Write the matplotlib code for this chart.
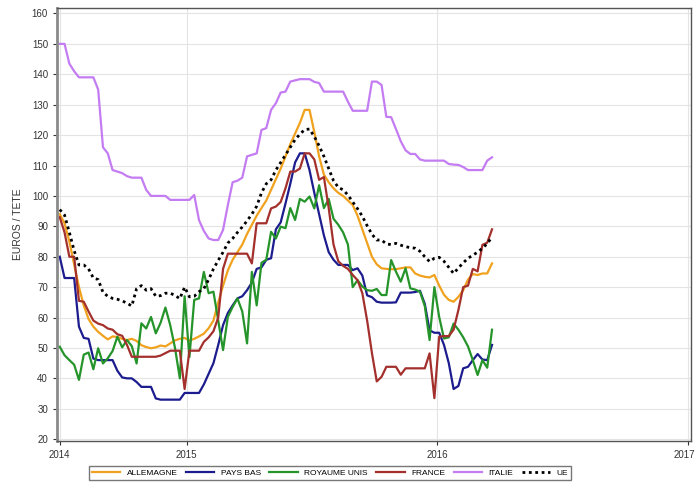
import matplotlib
matplotlib.use("Agg")
import matplotlib.pyplot as plt
import matplotlib.transforms as mtransforms
import pandas as pd

plt.rcParams["font.family"] = ["Liberation Sans", "DejaVu Sans"]

# weekly piglet prices, EUR per head
weeks = pd.date_range("2014-06-30", periods=91, freq="7D")

allemagne = [94, 91, 85, 77.5, 70, 64, 59.5, 57, 55.3, 54,
             52.8, 53.8, 53.6, 53, 52.6, 53, 52.3, 50.9, 50.3, 49.9,
             50.2, 50.8, 50.5, 51.5, 52.5, 53, 53.3, 52.4, 53, 53.8,
             54.7, 56.5, 59, 65, 70.5, 75.5, 79, 81.5, 84, 87.5,
             90.5, 93.5, 96, 98.5, 102, 105.5, 109, 113, 117, 120.5,
             124, 128.3, 128.3, 121, 113, 107, 104.5, 102.5, 101, 100,
             98.5, 97, 93.5, 89, 84.5, 80, 77.5, 76.2, 76, 75.9,
             75.9, 76.2, 76.5, 76.5, 74.5, 73.8, 73.4, 73.2, 74, 70.5,
             67.5, 65.8, 65.2, 66.8, 69, 72.5, 74.3, 74, 74.5, 74.5,
             77.8]

pays_bas = [80, 73, 73, 73, 57, 53.3, 53, 46.5, 46, 46,
            46, 46, 42.5, 40.3, 40, 40, 38.8, 37.2, 37.2, 37.2,
            33.4, 33, 33, 33, 33, 33, 35.2, 35.2, 35.2, 35.2,
            38, 41.5, 45, 51, 57.5, 61.5, 64, 66.3, 67, 69,
            71.5, 76, 76.5, 79, 79.5, 89, 91.3, 97.5, 104, 111,
            114, 114, 108.5, 101, 94, 87, 81.5, 79, 77.3, 77.3,
            77.3, 75.6, 76.2, 73.8, 67.3, 66.7, 65.2, 64.9, 64.9, 64.9,
            65, 68.2, 68.2, 68.2, 68.4, 68.8, 64.5, 55.8, 55, 55,
            51, 45, 36.5, 37.5, 43.3, 43.8, 46, 48, 46.2, 46,
            51]

royaume_unis = [50.4, 47.6, 46, 44.5, 39.5, 47.8, 48.5, 43, 49.9, 44.9,
                46.6, 49, 53.7, 50.2, 52.6, 50.6, 44.9, 58.1, 56.4, 60.2,
                54.8, 58.3, 63.3, 57.5, 50, 40, 67, 47, 65.8, 66.3,
                75, 68, 68.5, 59, 49.3, 60.2, 63.5, 66.3, 62, 51.5,
                75, 64, 78, 79, 88.2, 86, 89.9, 89.4, 96, 92.1,
                99, 98.1, 99.8, 95.9, 103.5, 96, 99, 92.5, 90.5, 88,
                84, 70, 72.3, 70.2, 69, 68.8, 69.4, 67.4, 67.4, 78.9,
                75.1, 71.8, 76.2, 69.6, 69.2, 68.5, 63.8, 52.6, 70, 60.2,
                53.1, 53.5, 58, 56, 53.5, 50.5, 46, 41.1, 46, 43.5,
                56]

france = [93, 88, 80, 80, 65.5, 65.2, 62, 59, 58, 57.5,
          56.4, 56, 54.5, 54, 51, 47.1, 47.1, 47.1, 47.1, 47.1,
          47.1, 47.5, 48.3, 49.1, 49.1, 49.1, 36.5, 49.1, 49.1, 49.1,
          52, 53.5, 55.5, 60, 76, 81, 81, 81, 81, 81,
          77.8, 91, 91, 91, 95.9, 96.5, 98, 102.5, 108, 108,
          109, 114, 114, 112, 105.3, 106.2, 96, 84, 78.5, 77,
          76, 74, 72.3, 68, 59, 48.3, 39, 40.5, 43.8, 43.8,
          43.8, 41.2, 43.3, 43.3, 43.3, 43.3, 43.3, 48.2, 33.5, 53.7,
          53.9, 53.9, 56, 62.5, 70, 70.5, 76, 75.2, 83.9, 84.6,
          89]

italie = [150, 150, 143.5, 141, 139, 139, 139, 139, 135, 116,
          114, 108.5, 108, 107.5, 106.5, 106, 106, 106, 102, 100,
          100, 100, 100, 98.7, 98.7, 98.7, 98.7, 98.7, 100.3, 92,
          88.5, 86, 85.5, 85.5, 88.8, 97, 104.5, 105, 106, 113,
          113.5, 114, 121.7, 122.3, 128.3, 130.5, 134, 134.3, 137.6, 138,
          138.4, 138.4, 138.4, 137.5, 137.1, 134.3, 134.3, 134.3, 134.3, 134.3,
          131, 128, 128, 128, 128, 137.6, 137.6, 136.5, 126, 125.9,
          122, 118, 115, 113.8, 113.8, 112, 111.6, 111.6, 111.6, 111.6,
          111.6, 110.5, 110.3, 110.2, 109.5, 108.5, 108.5, 108.5, 108.5, 111.6,
          112.7]

ue = [95.5, 93.7, 88, 82, 77.3, 77.3, 76, 73, 72.5, 68.3,
      67, 66.3, 66, 65.5, 64.7, 63.8, 69.5, 70.5, 69, 69.5,
      67, 67.2, 68, 68, 67.3, 66.2, 70, 66.8, 67, 68.5,
      69.5, 72.5, 76, 78.8, 81.5, 84.5, 86, 88, 89.8, 91.8,
      94, 96.6, 101, 104, 105.3, 108.5, 111, 113.5, 116, 118.5,
      120.3, 121.8, 122, 119.5, 116.5, 113, 109, 105, 102.8, 102,
      100.3, 98, 95.8, 93.3, 90.2, 87.4, 85.5, 85.5, 84.2, 84,
      84.4, 83.8, 83.3, 83, 82.8, 81.8, 80, 78.4, 79.5, 79.8,
      78.5, 76.5, 74.5, 76.3, 78, 79.5, 80.5, 81.5, 82.8, 84.3,
      86.5]

year_ticks = pd.to_datetime(["2014-06-30", "2015-01-01", "2016-01-01", "2017-01-01"])
year_labels = ["2014", "2015", "2016", "2017"]

fig = plt.figure(figsize=(6.97, 4.86), dpi=100)
ax = fig.add_axes([57 / 697, 45 / 486, 634 / 697, 433 / 486])

ax.plot(weeks, allemagne, color="#f0a21e", lw=1.6, label="ALLEMAGNE")
ax.plot(weeks, pays_bas, color="#1c1c8e", lw=1.6, label="PAYS BAS")
ax.plot(weeks, royaume_unis, color="#25942a", lw=1.6, label="ROYAUME UNIS")
ax.plot(weeks, france, color="#a3302c", lw=1.6, label="FRANCE")
ax.plot(weeks, italie, color="#c47cf2", lw=1.6, label="ITALIE")
ax.plot(weeks, ue, color="black", lw=2, linestyle=(0, (1, 1.3)), label="UE")

ax.set_xlim(pd.Timestamp("2014-06-26"), pd.Timestamp("2017-01-05"))
ax.set_ylim(19.4, 161.8)
ax.set_yticks(range(20, 161, 10))
ax.set_xticks(year_ticks)
ax.set_xticklabels(year_labels)
ax.tick_params(labelsize=7, colors="#333333", length=3, width=0.8)
ax.grid(True, color="#e4e4e4", lw=0.8)
ax.set_axisbelow(True)

# last year label sits on the figure edge, nudge it in a little
last = ax.get_xticklabels()[-1]
last.set_transform(last.get_transform() +
                   mtransforms.ScaledTranslation(-3 / 72, 0, fig.dpi_scale_trans))

for side in ["top", "right", "bottom"]:
    ax.spines[side].set_color("#555555")
    ax.spines[side].set_linewidth(1)
ax.spines["left"].set_color("#8a8a8a")
ax.spines["left"].set_linewidth(2)

ax.set_ylabel("EUROS / TETE", fontsize=7.5, color="#333333", labelpad=6)

fig.legend(loc="center", bbox_to_anchor=(330 / 697, 1 - 473 / 486), ncol=6,
           fontsize=6, frameon=True, fancybox=False, edgecolor="#777777",
           handlelength=3.4, columnspacing=1.0, handletextpad=0.8,
           borderpad=0.35, framealpha=1)

fig.savefig("out.png", dpi=100)
